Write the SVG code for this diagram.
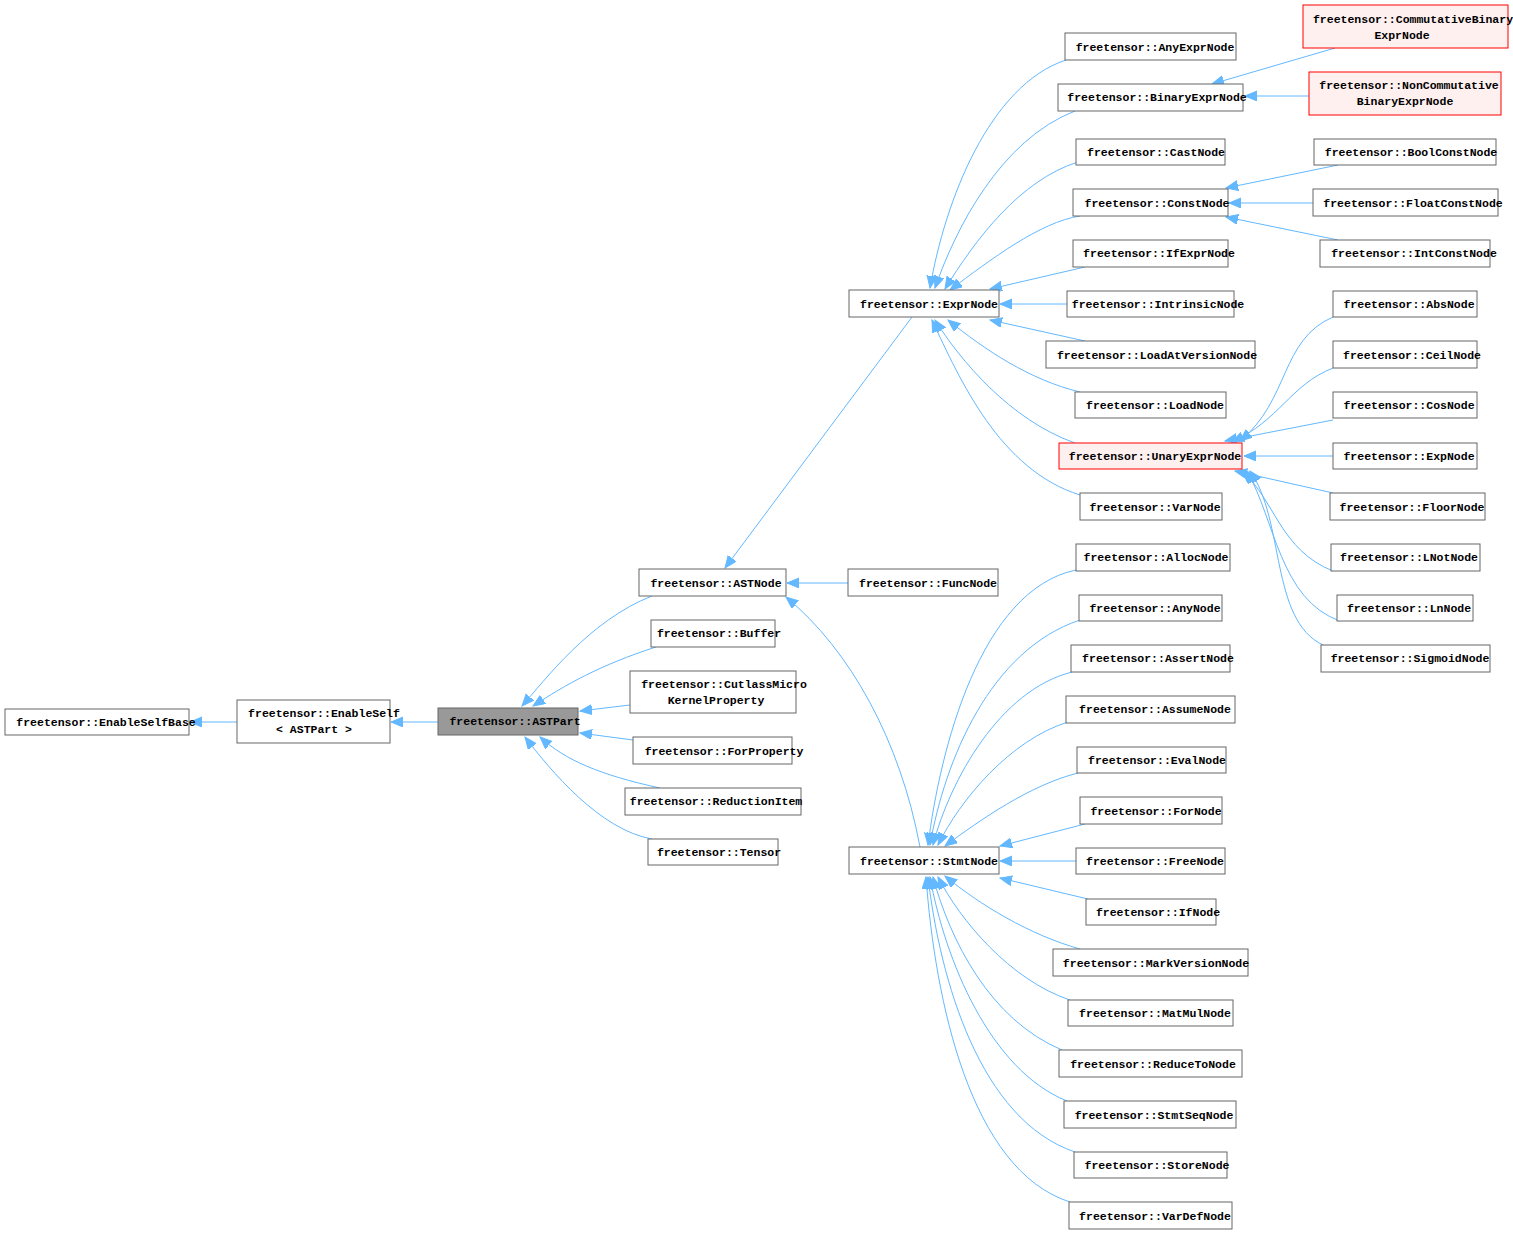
<svg xmlns="http://www.w3.org/2000/svg" width="1513" height="1235" viewBox="0 0 1513 1235">
<style>
.n rect{fill:#fff;stroke:#666;stroke-width:1}
.r rect{fill:#fff0f0;stroke:#f00}
.g rect{fill:#999;stroke:#666}
text{font-family:"Liberation Mono","DejaVu Sans Mono",monospace;font-size:11.5px;font-weight:bold;text-anchor:middle;fill:#000}
#edges path{fill:none;stroke:#63b8ff;stroke-width:1;marker-end:url(#a)}
</style>
<defs><marker id="a" markerUnits="userSpaceOnUse" markerWidth="13" markerHeight="11" refX="12" refY="5" orient="auto"><path d="M0,0 L12,5 L0,10 z" fill="#63b8ff" stroke="#63b8ff"/></marker></defs>
<rect width="1513" height="1235" fill="#fff"/>
<g id="edges">
<path d="M237,722 L190,722"/>
<path d="M438,722 L391,722"/>
<path d="M652,596 C590,620 545,680 522,706"/>
<path d="M656,647 C600,665 565,685 533,706"/>
<path d="M630,705 L580,711"/>
<path d="M633,740 L580,733"/>
<path d="M660,788 C600,775 565,760 540,737"/>
<path d="M652,839 C600,830 550,770 525,737"/>
<path d="M912,317 L725,568"/>
<path d="M848,583 L787,583"/>
<path d="M920,847 C900,740 850,650 786,597"/>
<path d="M1066,60 C990,85 945,200 930,288"/>
<path d="M1075,111 C1000,140 955,230 935,288"/>
<path d="M1078,162 C1020,180 975,240 945,289"/>
<path d="M1080,216 C1040,222 990,260 950,290"/>
<path d="M1085,267 L990,289"/>
<path d="M1067,304 L1000,304"/>
<path d="M1085,341 L990,320"/>
<path d="M1080,392 C1030,380 985,350 948,320"/>
<path d="M1075,443 C1010,420 960,360 935,320"/>
<path d="M1080,495 C1000,470 960,380 932,320"/>
<path d="M1335,48 L1212,84"/>
<path d="M1309,96 L1245,96"/>
<path d="M1338,165 L1226,188"/>
<path d="M1313,203 L1229,203"/>
<path d="M1338,240 L1226,217"/>
<path d="M1333,317 C1280,340 1290,400 1240,441"/>
<path d="M1333,368 C1290,385 1280,420 1232,442"/>
<path d="M1333,420 L1225,441"/>
<path d="M1333,456 L1244,456"/>
<path d="M1333,493 L1235,471"/>
<path d="M1333,571 C1280,550 1275,500 1242,471"/>
<path d="M1340,621 C1280,600 1275,520 1247,471"/>
<path d="M1323,645 C1270,620 1285,520 1250,471"/>
<path d="M1076,570 C980,590 940,750 928,845"/>
<path d="M1080,620 C990,650 945,760 930,845"/>
<path d="M1072,672 C1000,690 950,780 933,845"/>
<path d="M1068,722 C1010,740 960,800 938,845"/>
<path d="M1078,773 C1030,785 980,820 945,846"/>
<path d="M1085,824 L1000,846"/>
<path d="M1076,861 L1000,861"/>
<path d="M1088,899 L1000,878"/>
<path d="M1080,949 C1030,935 980,905 945,876"/>
<path d="M1070,1000 C1010,980 960,920 938,877"/>
<path d="M1062,1050 C990,1020 950,940 933,877"/>
<path d="M1067,1101 C990,1070 945,960 930,877"/>
<path d="M1075,1152 C980,1120 940,980 928,877"/>
<path d="M1070,1202 C970,1170 935,1000 926,877"/>
</g>
<g id="EnableSelfBase" class="n"><rect x="5" y="709" width="184" height="26"/><text x="106" y="726">freetensor::EnableSelfBase</text></g>
<g id="EnableSelf" class="n"><rect x="237" y="700" width="153" height="43"/><text x="324" y="717">freetensor::EnableSelf</text><text x="314" y="733">&lt; ASTPart &gt;</text></g>
<g id="ASTPart" class="g"><rect x="438" y="708" width="140" height="27"/><text x="515" y="725">freetensor::ASTPart</text></g>
<g id="ASTNode" class="n"><rect x="639" y="569" width="147" height="27"/><text x="716" y="587">freetensor::ASTNode</text></g>
<g id="Buffer" class="n"><rect x="651" y="620" width="124" height="27"/><text x="719" y="637">freetensor::Buffer</text></g>
<g id="Cutlass" class="n"><rect x="630" y="671" width="166" height="42"/><text x="724" y="688">freetensor::CutlassMicro</text><text x="716" y="704">KernelProperty</text></g>
<g id="ForProperty" class="n"><rect x="633" y="737" width="159" height="27"/><text x="724" y="755">freetensor::ForProperty</text></g>
<g id="ReductionItem" class="n"><rect x="625" y="788" width="176" height="27"/><text x="716" y="805">freetensor::ReductionItem</text></g>
<g id="Tensor" class="n"><rect x="648" y="839" width="130" height="26"/><text x="719" y="856">freetensor::Tensor</text></g>
<g id="FuncNode" class="n"><rect x="848" y="569" width="150" height="27"/><text x="928" y="587">freetensor::FuncNode</text></g>
<g id="ExprNode" class="n"><rect x="849" y="290" width="150" height="27"/><text x="929" y="308">freetensor::ExprNode</text></g>
<g id="StmtNode" class="n"><rect x="849" y="847" width="150" height="27"/><text x="929" y="865">freetensor::StmtNode</text></g>
<g id="AnyExprNode" class="n"><rect x="1065" y="33" width="171" height="27"/><text x="1155" y="51">freetensor::AnyExprNode</text></g>
<g id="BinaryExprNode" class="n"><rect x="1058" y="84" width="185" height="27"/><text x="1157" y="101">freetensor::BinaryExprNode</text></g>
<g id="CastNode" class="n"><rect x="1076" y="139" width="149" height="26"/><text x="1156" y="156">freetensor::CastNode</text></g>
<g id="ConstNode" class="n"><rect x="1073" y="189" width="155" height="27"/><text x="1157" y="207">freetensor::ConstNode</text></g>
<g id="IfExprNode" class="n"><rect x="1073" y="240" width="155" height="27"/><text x="1159" y="257">freetensor::IfExprNode</text></g>
<g id="IntrinsicNode" class="n"><rect x="1067" y="291" width="167" height="26"/><text x="1158" y="308">freetensor::IntrinsicNode</text></g>
<g id="LoadAtVersionNode" class="n"><rect x="1046" y="341" width="209" height="27"/><text x="1157" y="359">freetensor::LoadAtVersionNode</text></g>
<g id="LoadNode" class="n"><rect x="1075" y="392" width="151" height="26"/><text x="1155" y="409">freetensor::LoadNode</text></g>
<g id="UnaryExprNode" class="n r"><rect x="1059" y="443" width="183" height="26"/><text x="1155" y="460">freetensor::UnaryExprNode</text></g>
<g id="VarNode" class="n"><rect x="1080" y="493" width="142" height="27"/><text x="1155" y="511">freetensor::VarNode</text></g>
<g id="CommutativeBinaryExprNode" class="n r"><rect x="1303" y="5" width="205" height="43"/><text x="1413" y="23">freetensor::CommutativeBinary</text><text x="1402" y="39">ExprNode</text></g>
<g id="NonCommutativeBinaryExprNode" class="n r"><rect x="1309" y="72" width="192" height="43"/><text x="1409" y="89">freetensor::NonCommutative</text><text x="1405" y="105">BinaryExprNode</text></g>
<g id="BoolConstNode" class="n"><rect x="1314" y="139" width="182" height="26"/><text x="1411" y="156">freetensor::BoolConstNode</text></g>
<g id="FloatConstNode" class="n"><rect x="1313" y="189" width="185" height="27"/><text x="1413" y="207">freetensor::FloatConstNode</text></g>
<g id="IntConstNode" class="n"><rect x="1320" y="240" width="170" height="27"/><text x="1414" y="257">freetensor::IntConstNode</text></g>
<g id="AbsNode" class="n"><rect x="1333" y="291" width="144" height="26"/><text x="1409" y="308">freetensor::AbsNode</text></g>
<g id="CeilNode" class="n"><rect x="1333" y="341" width="144" height="27"/><text x="1412" y="359">freetensor::CeilNode</text></g>
<g id="CosNode" class="n"><rect x="1333" y="392" width="144" height="26"/><text x="1409" y="409">freetensor::CosNode</text></g>
<g id="ExpNode" class="n"><rect x="1333" y="443" width="144" height="26"/><text x="1409" y="460">freetensor::ExpNode</text></g>
<g id="FloorNode" class="n"><rect x="1330" y="493" width="155" height="27"/><text x="1412" y="511">freetensor::FloorNode</text></g>
<g id="LNotNode" class="n"><rect x="1331" y="544" width="149" height="27"/><text x="1409" y="561">freetensor::LNotNode</text></g>
<g id="LnNode" class="n"><rect x="1337" y="595" width="136" height="26"/><text x="1409" y="612">freetensor::LnNode</text></g>
<g id="SigmoidNode" class="n"><rect x="1321" y="645" width="169" height="27"/><text x="1410" y="662">freetensor::SigmoidNode</text></g>
<g id="AllocNode" class="n"><rect x="1076" y="544" width="154" height="27"/><text x="1156" y="561">freetensor::AllocNode</text></g>
<g id="AnyNode" class="n"><rect x="1079" y="595" width="143" height="26"/><text x="1155" y="612">freetensor::AnyNode</text></g>
<g id="AssertNode" class="n"><rect x="1071" y="645" width="159" height="27"/><text x="1158" y="662">freetensor::AssertNode</text></g>
<g id="AssumeNode" class="n"><rect x="1066" y="696" width="169" height="27"/><text x="1155" y="713">freetensor::AssumeNode</text></g>
<g id="EvalNode" class="n"><rect x="1077" y="747" width="149" height="26"/><text x="1157" y="764">freetensor::EvalNode</text></g>
<g id="ForNode" class="n"><rect x="1080" y="797" width="142" height="27"/><text x="1156" y="815">freetensor::ForNode</text></g>
<g id="FreeNode" class="n"><rect x="1076" y="848" width="149" height="26"/><text x="1155" y="865">freetensor::FreeNode</text></g>
<g id="IfNode" class="n"><rect x="1086" y="899" width="130" height="26"/><text x="1158" y="916">freetensor::IfNode</text></g>
<g id="MarkVersionNode" class="n"><rect x="1053" y="949" width="195" height="27"/><text x="1156" y="967">freetensor::MarkVersionNode</text></g>
<g id="MatMulNode" class="n"><rect x="1068" y="1000" width="165" height="26"/><text x="1155" y="1017">freetensor::MatMulNode</text></g>
<g id="ReduceToNode" class="n"><rect x="1059" y="1050" width="183" height="27"/><text x="1153" y="1068">freetensor::ReduceToNode</text></g>
<g id="StmtSeqNode" class="n"><rect x="1064" y="1101" width="172" height="27"/><text x="1154" y="1119">freetensor::StmtSeqNode</text></g>
<g id="StoreNode" class="n"><rect x="1074" y="1152" width="153" height="26"/><text x="1157" y="1169">freetensor::StoreNode</text></g>
<g id="VarDefNode" class="n"><rect x="1069" y="1202" width="163" height="27"/><text x="1155" y="1220">freetensor::VarDefNode</text></g>
</svg>
